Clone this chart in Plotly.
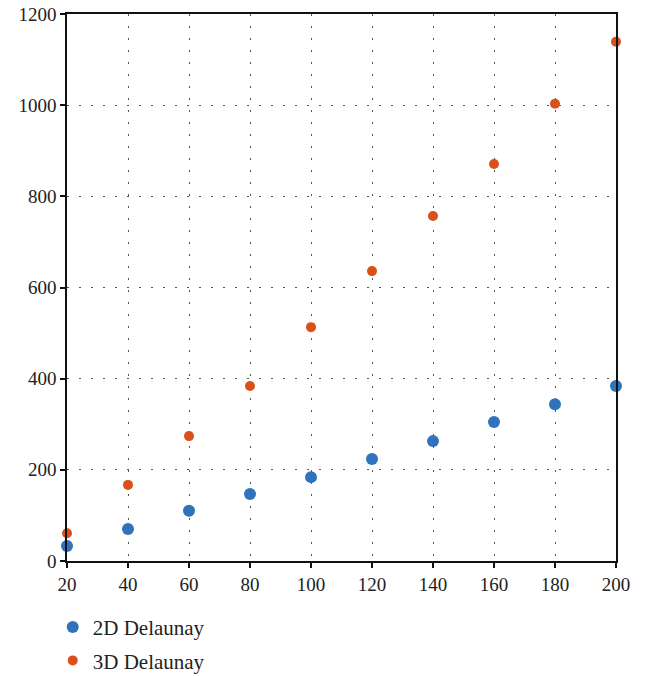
import plotly.graph_objects as go

# Number of points
n_points = [20, 40, 60, 80, 100, 120, 140, 160, 180, 200]
# Run times for each triangulation method
delaunay_2d = [33, 70, 110, 147, 184, 224, 263, 305, 344, 384]
delaunay_3d = [61, 167, 274, 384, 513, 636, 757, 871, 1003, 1139]

x_ticks = [20, 40, 60, 80, 100, 120, 140, 160, 180, 200]
y_ticks = [0, 200, 400, 600, 800, 1000, 1200]

FONT = "Liberation Serif"

fig = go.Figure()
fig.add_trace(go.Scatter(
    x=n_points, y=delaunay_2d, mode="markers", name="2D Delaunay",
    legendgroup="g2d",
    marker=dict(color="#2F74BA", size=12), cliponaxis=False,
))
fig.add_trace(go.Scatter(
    x=n_points, y=delaunay_3d, mode="markers", name="3D Delaunay",
    legendgroup="g3d",
    marker=dict(color="#D9501A", size=10), cliponaxis=False,
))

axis_common = dict(
    showline=True, linecolor="#111", linewidth=1.5, mirror=True,
    ticks="outside", ticklen=5, tickcolor="#111", tickwidth=1.5,
    showgrid=True, gridcolor="#555", gridwidth=1, griddash="2px,10px",
    zeroline=False, automargin=False,
    tickfont=dict(family=FONT, size=19, color="#222"),
)

fig.update_xaxes(range=[20, 200], tickvals=x_ticks, **axis_common)
fig.update_yaxes(range=[0, 1200], tickvals=y_ticks, **axis_common)

fig.update_layout(
    width=646, height=676,
    margin=dict(l=67, r=30, t=14, b=115, autoexpand=False),
    plot_bgcolor="white", paper_bgcolor="white",
    legend=dict(
        orientation="v", x=-0.026, y=-0.084, xanchor="left", yanchor="top",
        font=dict(family=FONT, size=21, color="#222"),
        itemsizing="trace", tracegroupgap=3,
    ),
)

fig.write_html("out.html")
